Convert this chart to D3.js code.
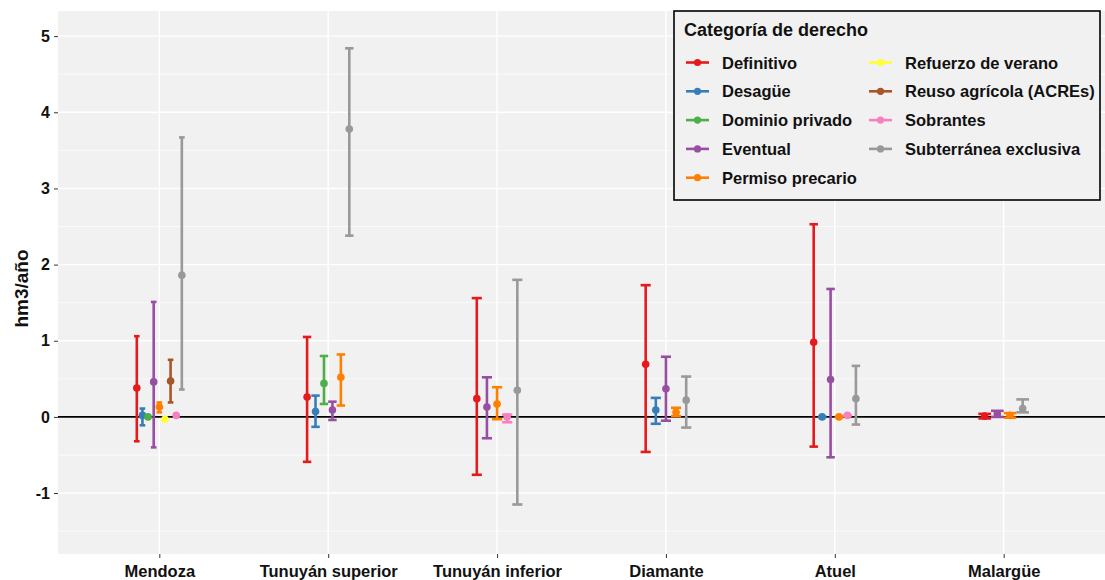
<!DOCTYPE html>
<html>
<head>
<meta charset="utf-8">
<script src="https://cdn.jsdelivr.net/npm/d3@7"></script>
<style>
  body { margin: 0; background: #fff; }
  text { font-family: "Liberation Sans", Arial, sans-serif; }
</style>
</head>
<body>
<div id="chart"></div>
<script>
// Data
const basins = ["Mendoza", "Tunuyán superior", "Tunuyán inferior", "Diamante", "Atuel", "Malargüe"];
const categories = ["Definitivo", "Desagüe", "Dominio privado", "Eventual", "Permiso precario",
  "Refuerzo de verano", "Reuso agrícola (ACREs)", "Sobrantes", "Subterránea exclusiva"];
const colours = ["#E41A1C", "#377EB8", "#4DAF4A", "#984EA3", "#FF7F00",
  "#FFFF33", "#A65628", "#F781BF", "#999999"];

// one row per category, one value per basin (null = category absent)
const meanVals = [
  [0.38, 0.26, 0.24, 0.69, 0.98, 0.01],
  [0.02, 0.07, null, 0.09, 0.00, null],
  [0.00, 0.44, null, null, null, null],
  [0.46, 0.09, 0.13, 0.37, 0.49, 0.04],
  [0.13, 0.52, 0.17, 0.06, 0.00, 0.02],
  [-0.03, null, null, null, null, null],
  [0.47, null, null, null, null, null],
  [0.02, null, 0.00, null, 0.02, null],
  [1.86, 3.78, 0.35, 0.22, 0.24, 0.11]
];
const lowVals = [
  [-0.32, -0.59, -0.76, -0.46, -0.39, -0.02],
  [-0.11, -0.13, null, -0.09, 0.00, null],
  [0.00, 0.17, null, null, null, null],
  [-0.40, -0.04, -0.28, -0.05, -0.53, 0.00],
  [0.06, 0.15, -0.03, 0.01, 0.00, -0.01],
  [-0.03, null, null, null, null, null],
  [0.19, null, null, null, null, null],
  [0.02, null, -0.07, null, 0.02, null],
  [0.36, 2.38, -1.15, -0.14, -0.10, 0.06]
];
const highVals = [
  [1.06, 1.05, 1.56, 1.73, 2.53, 0.04],
  [0.11, 0.28, null, 0.25, 0.00, null],
  [0.00, 0.80, null, null, null, null],
  [1.51, 0.20, 0.52, 0.79, 1.68, 0.08],
  [0.19, 0.82, 0.39, 0.12, 0.00, 0.05],
  [-0.03, null, null, null, null, null],
  [0.75, null, null, null, null, null],
  [0.02, null, 0.03, null, 0.02, null],
  [3.67, 4.84, 1.80, 0.53, 0.67, 0.23]
];
const yTicks = [-1, 0, 1, 2, 3, 4, 5];

const drawChart = () => {
  const width = 1105, height = 580;
  const panel = {left: 58, right: 1105, top: 11, bottom: 554};

  const svg = d3.select("#chart").append("svg")
    .attr("width", width).attr("height", height);

  // Scales
  const xScale = d3.scalePoint()
    .domain(basins)
    .range([panel.left, panel.right])
    .padding(0.6);
  const yScale = d3.scaleLinear()
    .domain([-1.8, 5.33])
    .range([panel.bottom, panel.top]);

  // Panel background
  svg.append("rect")
    .attr("x", panel.left).attr("y", panel.top)
    .attr("width", panel.right - panel.left)
    .attr("height", panel.bottom - panel.top)
    .attr("fill", "#F1F1F1");

  // Gridlines
  const minor = d3.range(-1.5, 5.5, 1);
  svg.append("g").selectAll("line").data(minor).join("line")
    .attr("x1", panel.left).attr("x2", panel.right)
    .attr("y1", d => yScale(d)).attr("y2", d => yScale(d))
    .attr("stroke", "#fff").attr("stroke-width", 0.7);
  svg.append("g").selectAll("line").data(yTicks).join("line")
    .attr("x1", panel.left).attr("x2", panel.right)
    .attr("y1", d => yScale(d)).attr("y2", d => yScale(d))
    .attr("stroke", "#fff").attr("stroke-width", 1.4);
  svg.append("g").selectAll("line").data(basins).join("line")
    .attr("x1", d => xScale(d)).attr("x2", d => xScale(d))
    .attr("y1", panel.top).attr("y2", panel.bottom)
    .attr("stroke", "#fff").attr("stroke-width", 1.4);

  // Zero line
  svg.append("line")
    .attr("x1", panel.left).attr("x2", panel.right)
    .attr("y1", yScale(0)).attr("y2", yScale(0))
    .attr("stroke", "#000").attr("stroke-width", 1.8);

  // Axes
  const leftAxis = d3.axisLeft(yScale).tickValues(yTicks)
    .tickFormat(d => String(d)).tickSize(4).tickPadding(4);
  const yAxis = svg.append("g")
    .attr("transform", `translate(${panel.left}, 0)`)
    .call(leftAxis);
  const bottomAxis = d3.axisBottom(xScale).tickSize(4).tickPadding(7);
  const xAxis = svg.append("g")
    .attr("transform", `translate(0, ${panel.bottom})`)
    .call(bottomAxis);
  [yAxis, xAxis].forEach(ax => {
    ax.select(".domain").remove();
    ax.selectAll(".tick line").attr("stroke", "#333");
    ax.selectAll(".tick text")
      .attr("fill", "#111")
      .attr("font-size", 16)
      .attr("font-weight", "bold")
      .attr("font-family", "Liberation Sans, Arial, sans-serif");
  });
  xAxis.selectAll(".tick text").attr("font-size", 16.5);

  svg.append("text")
    .attr("transform", `translate(28, ${(panel.top + panel.bottom) / 2 + 6}) rotate(-90)`)
    .attr("text-anchor", "middle")
    .attr("font-size", 19).attr("font-weight", "bold")
    .attr("fill", "#111")
    .text("hm3/año");

  // Build dodged rows: only categories present in each basin share the dodge width
  const step = xScale.step();
  const dodgeWidth = 0.3 * step;
  const rows = [];
  basins.forEach((b, bi) => {
    const present = categories.map((c, ci) => ci).filter(ci => meanVals[ci][bi] !== null);
    const n = present.length;
    const w = dodgeWidth / n;
    present.forEach((ci, k) => {
      rows.push({
        basin: b, cat: ci,
        x: xScale(b) - dodgeWidth / 2 + w * (k + 0.5),
        w: w,
        mean: meanVals[ci][bi], lo: lowVals[ci][bi], hi: highVals[ci][bi]
      });
    });
  });

  // Error bars
  const bars = svg.append("g").selectAll("g").data(rows).join("g")
    .attr("stroke", d => colours[d.cat])
    .attr("stroke-width", 2.6)
    .attr("fill", "none");
  bars.append("line")
    .attr("x1", d => d.x).attr("x2", d => d.x)
    .attr("y1", d => yScale(d.lo)).attr("y2", d => yScale(d.hi));
  bars.append("line")
    .attr("x1", d => d.x - d.w / 2).attr("x2", d => d.x + d.w / 2)
    .attr("y1", d => yScale(d.lo)).attr("y2", d => yScale(d.lo));
  bars.append("line")
    .attr("x1", d => d.x - d.w / 2).attr("x2", d => d.x + d.w / 2)
    .attr("y1", d => yScale(d.hi)).attr("y2", d => yScale(d.hi));

  // Points
  svg.append("g").selectAll("circle").data(rows).join("circle")
    .attr("cx", d => d.x)
    .attr("cy", d => yScale(d.mean))
    .attr("r", 3.8)
    .attr("fill", d => colours[d.cat]);

  // Legend
  const legend = svg.append("g");
  legend.append("rect")
    .attr("x", 674).attr("y", 11).attr("width", 426).attr("height", 189)
    .attr("fill", "#F1F1F1").attr("stroke", "#000").attr("stroke-width", 1.6);
  legend.append("text")
    .attr("x", 684).attr("y", 36)
    .attr("font-size", 18).attr("font-weight", "bold").attr("fill", "#111")
    .text("Categoría de derecho");
  const items = legend.selectAll("g.item").data(categories).join("g")
    .attr("class", "item")
    .attr("transform", (d, i) => {
      const col = i < 5 ? 0 : 1;
      const row = i < 5 ? i : i - 5;
      return `translate(${col === 0 ? 686 : 869}, ${62.5 + row * 28.8})`;
    });
  items.append("line")
    .attr("x1", 0).attr("x2", 23).attr("y1", 0).attr("y2", 0)
    .attr("stroke", (d, i) => colours[i]).attr("stroke-width", 2.6);
  items.append("circle")
    .attr("cx", 11.5).attr("cy", 0).attr("r", 3.6)
    .attr("fill", (d, i) => colours[i]);
  items.append("text")
    .attr("x", 36).attr("y", 6)
    .attr("font-size", 16.5).attr("font-weight", "bold").attr("fill", "#111")
    .text(d => d);
};

drawChart();
</script>
</body>
</html>
